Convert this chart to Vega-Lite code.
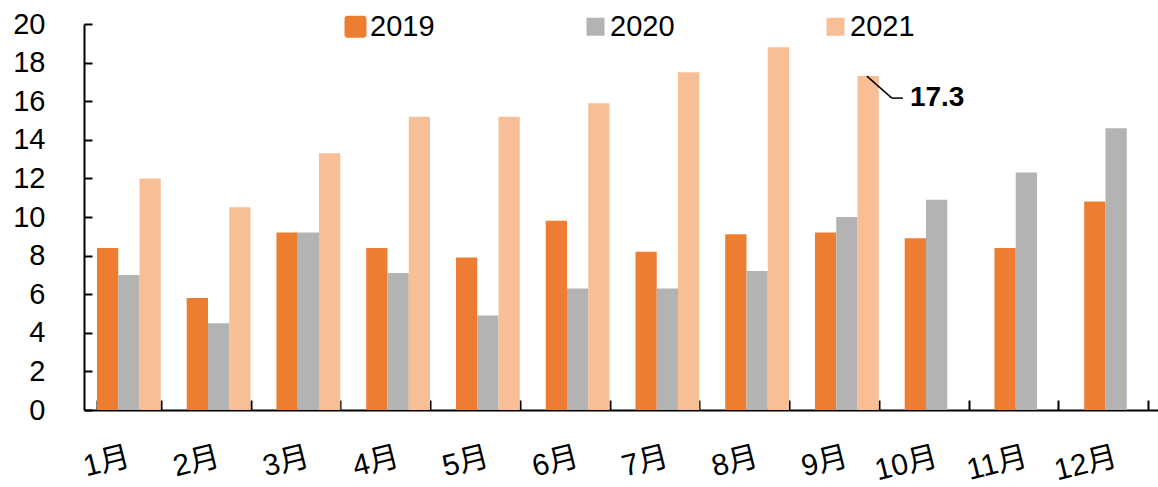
{
  "$schema": "https://vega.github.io/schema/vega-lite/v6.json",
  "width": 1074,
  "height": 386,
  "autosize": {"type": "none"},
  "padding": {"left": 84, "top": 24, "right": 0, "bottom": 77},
  "background": "white",
  "data": {
    "values": [
      {"month": "1月", "year": "2019", "value": 8.4},
      {"month": "1月", "year": "2020", "value": 7.0},
      {"month": "1月", "year": "2021", "value": 12.0},
      {"month": "2月", "year": "2019", "value": 5.8},
      {"month": "2月", "year": "2020", "value": 4.5},
      {"month": "2月", "year": "2021", "value": 10.5},
      {"month": "3月", "year": "2019", "value": 9.2},
      {"month": "3月", "year": "2020", "value": 9.2},
      {"month": "3月", "year": "2021", "value": 13.3},
      {"month": "4月", "year": "2019", "value": 8.4},
      {"month": "4月", "year": "2020", "value": 7.1},
      {"month": "4月", "year": "2021", "value": 15.2},
      {"month": "5月", "year": "2019", "value": 7.9},
      {"month": "5月", "year": "2020", "value": 4.9},
      {"month": "5月", "year": "2021", "value": 15.2},
      {"month": "6月", "year": "2019", "value": 9.8},
      {"month": "6月", "year": "2020", "value": 6.3},
      {"month": "6月", "year": "2021", "value": 15.9},
      {"month": "7月", "year": "2019", "value": 8.2},
      {"month": "7月", "year": "2020", "value": 6.3},
      {"month": "7月", "year": "2021", "value": 17.5},
      {"month": "8月", "year": "2019", "value": 9.1},
      {"month": "8月", "year": "2020", "value": 7.2},
      {"month": "8月", "year": "2021", "value": 18.8},
      {"month": "9月", "year": "2019", "value": 9.2},
      {"month": "9月", "year": "2020", "value": 10.0},
      {"month": "9月", "year": "2021", "value": 17.3},
      {"month": "10月", "year": "2019", "value": 8.9},
      {"month": "10月", "year": "2020", "value": 10.9},
      {"month": "11月", "year": "2019", "value": 8.4},
      {"month": "11月", "year": "2020", "value": 12.3},
      {"month": "12月", "year": "2019", "value": 10.8},
      {"month": "12月", "year": "2020", "value": 14.6}
    ]
  },
  "encoding": {
    "x": {
      "field": "month",
      "type": "nominal",
      "sort": ["1月", "2月", "3月", "4月", "5月", "6月", "7月", "8月", "9月", "10月", "11月", "12月"],
      "scale": {"range": [0, 1077], "paddingInner": 0.289, "paddingOuter": 0.1445},
      "axis": {
        "title": null,
        "labelAngle": -14,
        "labelAlign": "right",
        "labelBaseline": "middle",
        "labelFontSize": 30,
        "labelPadding": 56,
        "labelLimit": 0,
        "tickSize": -10,
        "tickBand": "extent"
      }
    },
    "y": {
      "field": "value",
      "type": "quantitative",
      "scale": {"domain": [0, 20], "nice": false},
      "axis": {
        "title": null,
        "values": [0, 2, 4, 6, 8, 10, 12, 14, 16, 18, 20],
        "labelFontSize": 29,
        "labelPadding": 47,
        "tickSize": -8
      }
    }
  },
  "layer": [
    {
      "mark": {"type": "bar"},
      "encoding": {
        "xOffset": {
          "field": "year",
          "type": "nominal",
          "scale": {"domain": ["2019", "2020", "2021"], "paddingInner": 0, "paddingOuter": 0}
        },
        "color": {
          "field": "year",
          "type": "nominal",
          "scale": {"domain": ["2019", "2020", "2021"], "range": ["#ED7D31", "#B3B3B3", "#F8BF96"]},
          "legend": {
            "title": null,
            "orient": "none",
            "legendX": 257,
            "legendY": -12,
            "direction": "horizontal",
            "columns": 3,
            "columnPadding": 146,
            "padding": 0,
            "symbolType": "square",
            "symbolSize": 324,
            "symbolStrokeWidth": 0,
            "symbolOpacity": 1,
            "labelOffset": 0,
            "labelFontSize": 29,
            "labelFont": "Liberation Sans, Arial, sans-serif",
            "labelColor": "black",
            "encode": {
              "symbols": {
                "update": {
                  "size": {"signal": "datum.value === '2019' ? 484 : 324"},
                  "shape": {"signal": "datum.value === '2019' ? 'M-1,-0.73A0.27,0.27 0 0 1 -0.73,-1L0.73,-1A0.27,0.27 0 0 1 1,-0.73L1,0.73A0.27,0.27 0 0 1 0.73,1L-0.73,1A0.27,0.27 0 0 1 -1,0.73Z' : 'square'"}
                }
              }
            }
          }
        }
      }
    },
    {
      "transform": [{"filter": "datum.month === '9月' && datum.year === '2021'"}],
      "mark": {"type": "rule", "color": "black", "strokeWidth": 1.5, "xOffset": 20, "x2Offset": 45, "y2Offset": 22},
      "encoding": {
        "x": {"field": "month", "type": "nominal", "bandPosition": 0.5},
        "x2": {"field": "month", "bandPosition": 0.5},
        "y2": {"field": "value"}
      }
    },
    {
      "transform": [{"filter": "datum.month === '9月' && datum.year === '2021'"}],
      "mark": {"type": "rule", "color": "black", "strokeWidth": 1.5, "xOffset": 45, "x2Offset": 56, "yOffset": 22, "y2Offset": 22},
      "encoding": {
        "x": {"field": "month", "type": "nominal", "bandPosition": 0.5},
        "x2": {"field": "month", "bandPosition": 0.5},
        "y2": {"field": "value"}
      }
    },
    {
      "transform": [{"filter": "datum.month === '9月' && datum.year === '2021'"}],
      "mark": {
        "type": "text",
        "align": "left",
        "baseline": "middle",
        "dx": 63,
        "dy": 22,
        "fontSize": 28,
        "fontWeight": "bold",
        "font": "Liberation Sans, Arial, sans-serif",
        "color": "black"
      },
      "encoding": {
        "x": {"field": "month", "type": "nominal", "bandPosition": 0.5},
        "text": {"field": "value", "type": "quantitative", "format": ".1f"}
      }
    }
  ],
  "config": {
    "view": {"stroke": null},
    "font": "Liberation Sans, Noto Sans CJK SC, sans-serif",
    "axis": {
      "grid": false,
      "domainColor": "black",
      "domainWidth": 2,
      "tickColor": "black",
      "tickWidth": 2,
      "labelColor": "black",
      "labelFont": "Liberation Sans, Noto Sans CJK SC, sans-serif"
    }
  }
}
